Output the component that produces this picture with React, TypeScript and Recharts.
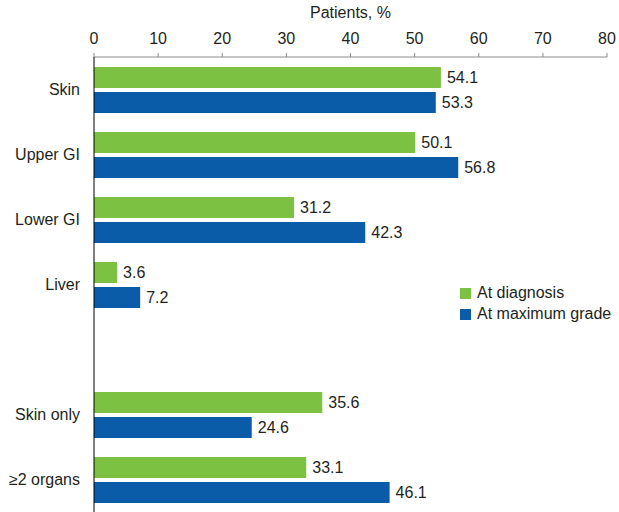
import React from "react";
import { BarChart, Bar, XAxis, YAxis, Legend, LabelList } from "recharts";

const categories = ["Skin", "Upper GI", "Lower GI", "Liver", "", "Skin only", "\u22652 organs"];
const atDiagnosis = [54.1, 50.1, 31.2, 3.6, null, 35.6, 33.1];
const atMaxGrade = [53.3, 56.8, 42.3, 7.2, null, 24.6, 46.1];
const xTicks = [0, 10, 20, 30, 40, 50, 60, 70, 80];

const GREEN = "#7cc142";
const BLUE = "#0b5ca8";
const TEXT = "#231f20";
const FONT = "'Liberation Sans', Arial, Helvetica, sans-serif";
const FS = 16;

const data = categories.map((name, i) => ({ name, diag: atDiagnosis[i], max: atMaxGrade[i] }));

const fmt = (v: any) => (v == null ? "" : Number(v).toFixed(1));

export default function App() {
  return (
    <div style={{ position: "absolute", left: 0, top: 0, fontFamily: FONT }}>
      <BarChart
        width={619}
        height={512}
        data={data}
        layout="vertical"
        margin={{ top: 0, right: 12, bottom: 0, left: 0 }}
        barSize={21}
        barGap={4}
      >
        <XAxis
          type="number"
          orientation="top"
          domain={[0, 80]}
          ticks={xTicks}
          height={57}
          interval={0}
          stroke="#8a8a8a"
          tickSize={4}
          tickMargin={9}
          tick={{ fill: TEXT, fontSize: FS, fontFamily: FONT }}
          label={{ value: "Patients, %", position: "insideTop", offset: 0, dy: 7, fill: TEXT, fontSize: FS, fontFamily: FONT }}
        />
        <YAxis
          type="category"
          dataKey="name"
          width={94}
          stroke="#000"
          tickLine={false}
          tickSize={0}
          tickMargin={14}
          interval={0}
          tick={{ fill: TEXT, fontSize: FS, fontFamily: FONT }}
        />
        <Legend
          layout="vertical"
          verticalAlign="middle"
          align="center"
          iconType="square"
          iconSize={11}
          wrapperStyle={{ top: 282, left: 460, width: 170, lineHeight: "21px", textAlign: "left" }}
          formatter={(value: any) => (
            <span style={{ color: TEXT, fontSize: FS, fontFamily: FONT, marginLeft: 2 }}>{value}</span>
          )}
        />
        <Bar dataKey="diag" name="At diagnosis" fill={GREEN} isAnimationActive={false}>
          <LabelList dataKey="diag" position="right" offset={6} formatter={fmt} fill={TEXT} fontSize={FS} fontFamily={FONT} />
        </Bar>
        <Bar dataKey="max" name="At maximum grade" fill={BLUE} isAnimationActive={false}>
          <LabelList dataKey="max" position="right" offset={6} formatter={fmt} fill={TEXT} fontSize={FS} fontFamily={FONT} />
        </Bar>
      </BarChart>
    </div>
  );
}
